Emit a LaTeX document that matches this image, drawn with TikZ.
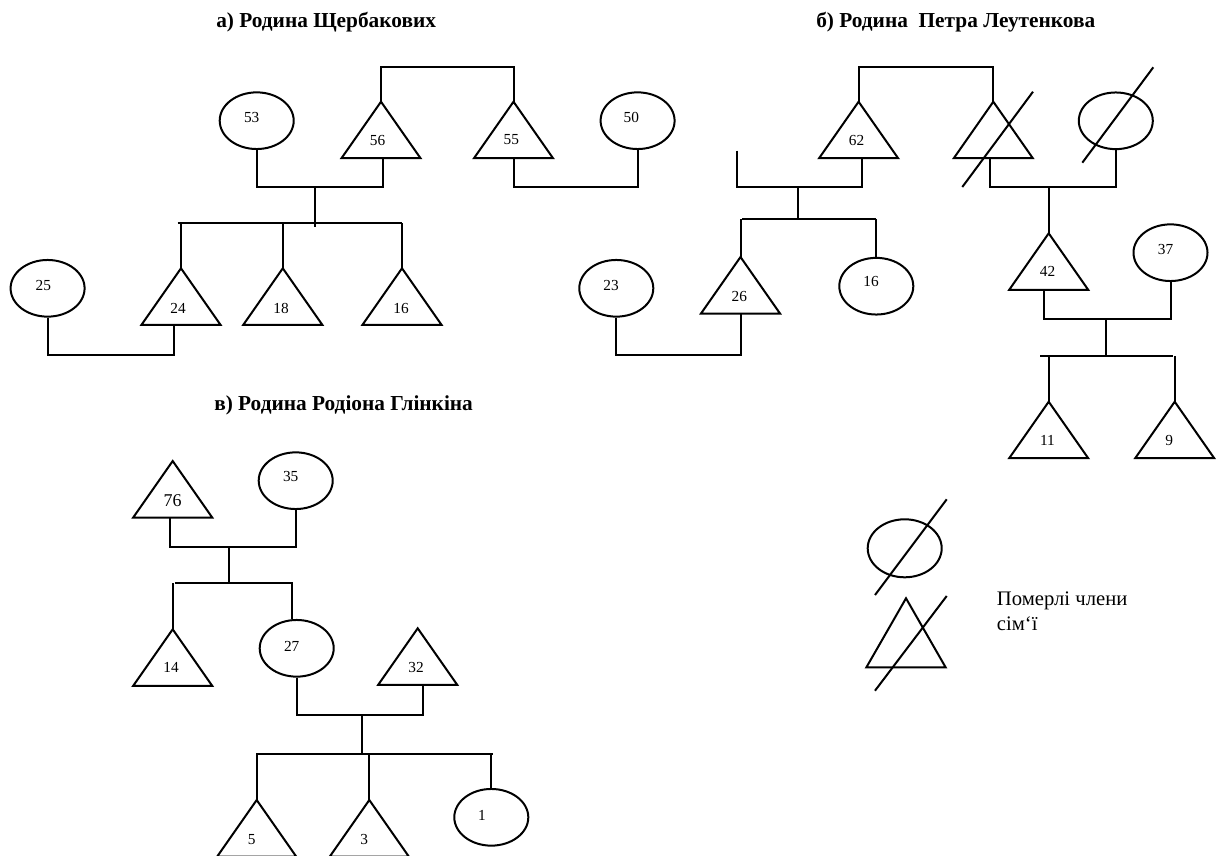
\documentclass[tikz,border=0pt]{standalone}
\usepackage{fontspec}
\setmainfont{Liberation Serif}
\usetikzlibrary{shapes.geometric,calc}
\tikzset{
  link/.style={line width=1.5pt},
  fem/.style={draw, ellipse, line width=1.5pt, minimum width=55.5pt, minimum height=42.5pt, inner sep=0pt},
  num/.style={inner sep=0pt, font=\fontsize{11.5}{13}\selectfont},
  bignum/.style={inner sep=0pt, font=\fontsize{13.5}{15}\selectfont},
  ttl/.style={inner sep=0pt, anchor=base west, font=\fontsize{16}{19}\selectfont\bfseries},
  tri/.pic={\draw[link] (-39.5,56.5) -- (0,0) -- (39.5,56.5) -- cycle;
            \coordinate (-top) at (0,0); \coordinate (-base) at (0,56.5);}
}
\begin{document}
\begin{tikzpicture}[x=0.75pt,y=-0.75pt]
\useasboundingbox (0,0) rectangle (1224,856);
\fill[white] (0,0) rectangle (1224,856);
\clip (0,0) rectangle (1224,856);

% ---------------- a) ----------------
\node[ttl] (titleA) at (216,27.7) {а) Родина Щербакових};
\pic (t56) at (381,101.7) {tri};
\pic (t55) at (513.5,101.7) {tri};
\node[fem] (c53) at (256.7,120.7) {};
\node[fem] (c50) at (637.6,120.7) {};
\pic (t24) at (181,268.3) {tri};
\pic (t18) at (282.8,268.3) {tri};
\pic (t16a) at (402,268.3) {tri};
\node[fem] (c25) at (47.6,288.3) {};
\node[num] (l53) at (251.7,117.3) {53};
\node[num] (l56) at (377.5,140) {56};
\node[num] (l55) at (511.4,140) {55};
\node[num] (l50) at (631.3,117.3) {50};
\node[num] (l24) at (178,308.3) {24};
\node[num] (l18) at (281.1,308.3) {18};
\node[num] (l16a) at (401.1,308.3) {16};
\node[num] (l25) at (43.4,285) {25};
\coordinate (topA) at (447,67.3);
\coordinate (mA) at (314.8,187.3);
\coordinate (mA2) at (574,187.3);
\coordinate (kA) at (314.8,226.7);
\coordinate (kAl) at (177.6,222.7);
\coordinate (kAr) at (402,222.7);
\coordinate (mA3) at (110,355);
\draw[link] (t56-top) |- (topA) -| (t55-top);
\draw[link] (c53.south) |- (mA) -| ([xshift=1.5pt]t56-base);
\draw[link] (t55-base) |- (mA2) -| (c50.south);
\draw[link] (mA) -- (kA);
\draw[link] (kAl) -- (kAr);
\draw[link] (t24-top) -- (t24-top |- kAl);
\draw[link] (t18-top) -- (t18-top |- kAl);
\draw[link] (t16a-top) -- (t16a-top |- kAl);
\draw[link] (c25.south) |- (mA3) -| ([xshift=-5pt]t24-base);

% ---------------- b) ----------------
\node[ttl] (titleB) at (816,27.7) {б) Родина\ \ Петра Леутенкова};
\pic (t62) at (858.6,101.7) {tri};
\pic (tD) at (993.3,101.7) {tri};
\node[fem] (cD) at (1115.8,120.8) {};
\coordinate (sT1) at (1033,91.7);
\coordinate (sT2) at (962.3,187);
\coordinate (sC1) at (1153.3,67.3);
\coordinate (sC2) at (1082.3,162.7);
\draw[link] (sT1) -- (sT2);
\draw[link] (sC1) -- (sC2);
\pic (t26) at (740.5,257) {tri};
\node[fem] (c16b) at (876.3,286.2) {};
\node[fem] (c23) at (616.3,288.3) {};
\pic (t42) at (1048.7,233.3) {tri};
\node[fem] (c37) at (1170.5,252.7) {};
\pic (t11) at (1048.7,401.7) {tri};
\pic (t9) at (1174.7,401.7) {tri};
\node[num] (l62) at (856.5,140) {62};
\node[num] (l26) at (739.3,296) {26};
\node[num] (l16b) at (871,281.7) {16};
\node[num] (l23) at (611,285) {23};
\node[num] (l42) at (1047.5,271.7) {42};
\node[num] (l37) at (1165.5,249.3) {37};
\node[num] (l11) at (1047.5,440) {11};
\node[num] (l9) at (1169.2,440) {9};
\coordinate (topB) at (926,67.3);
\coordinate (freeB) at (736.7,150.7);
\coordinate (mB1) at (797.7,186.7);
\coordinate (kB1) at (797.7,219.3);
\coordinate (kB1l) at (742.3,219.3);
\coordinate (kB1r) at (875.7,219.3);
\coordinate (mB2) at (680,355);
\coordinate (mB3) at (1048.7,186.7);
\coordinate (mB4) at (1105.9,319.3);
\coordinate (kB4) at (1105.9,356);
\coordinate (kB4l) at (1040.4,356);
\coordinate (kB4r) at (1172.6,356);
\draw[link] (t62-top) |- (topB) -| (tD-top);
\draw[link] (freeB) |- (mB1) -| ([xshift=2.6pt]t62-base);
\draw[link] (mB1) -- (kB1);
\draw[link] (kB1l) -- (kB1r);
\draw[link] (t26-top) -- (t26-top |- kB1l);
\draw[link] (c16b.north) -- (c16b.north |- kB1l);
\draw[link] (c23.south) |- (mB2) -| (t26-base);
\draw[link] ([xshift=-2.5pt]tD-base) |- (mB3) -| (cD.south);
\draw[link] (mB3) -- (t42-top);
\draw[link] ([xshift=-3.3pt]t42-base) |- (mB4) -| (c37.south);
\draw[link] (mB4) -- (kB4);
\draw[link] (kB4l) -- (kB4r);
\draw[link] (t11-top) -- (t11-top |- kB4l);
\draw[link] (t9-top) -- (t9-top |- kB4l);

% ---------------- c) ----------------
\node[ttl] (titleC) at (214,410) {в) Родина Родіона Глінкіна};
\pic (t76) at (172.7,461) {tri};
\node[fem] (c35) at (295.7,480.7) {};
\pic (t14) at (172.7,629.3) {tri};
\node[fem] (c27) at (296.7,648.3) {};
\pic (t32) at (417.7,628.3) {tri};
\pic (t5) at (256.7,800) {tri};
\pic (t3) at (369.3,800) {tri};
\node[fem] (c1) at (491.3,817.3) {};
\node[bignum] (l76) at (172.7,501) {76};
\node[num] (l35) at (290.7,476.7) {35};
\node[num] (l14) at (171,667.7) {14};
\node[num] (l27) at (291.7,646) {27};
\node[num] (l32) at (416,667.7) {32};
\node[num] (l5) at (251.7,839.3) {5};
\node[num] (l3) at (364.3,839.3) {3};
\node[num] (l1) at (482,815) {1};
\coordinate (mC1) at (229.3,546.7);
\coordinate (kC1) at (229.3,583.3);
\coordinate (kC1l) at (175,583.3);
\coordinate (kC1r) at (293.3,583.3);
\coordinate (mC2) at (361.7,715);
\coordinate (kC2) at (361.7,754);
\coordinate (kC2l) at (256,754);
\coordinate (kC2r) at (492.7,754);
\draw[link] ([xshift=-2pt]t76-base) |- (mC1) -| (c35.south);
\draw[link] (mC1) -- (kC1);
\draw[link] (kC1l) -- (kC1r);
\draw[link] (t14-top) -- (t14-top |- kC1l);
\draw[link] ([xshift=-3.3pt]c27.north) -- ([xshift=-3.3pt]c27.north |- kC1l);
\draw[link] (c27.south) |- (mC2) -| ([xshift=3.75pt]t32-base);
\draw[link] (mC2) -- (kC2);
\draw[link] (kC2l) -- (kC2r);
\draw[link] (t5-top) -- (t5-top |- kC2l);
\draw[link] (t3-top) -- (t3-top |- kC2l);
\draw[link] (c1.north) -- (c1.north |- kC2l);

% ---------------- legend ----------------
\node[fem, minimum height=43.5pt] (cL) at (904.7,548.3) {};
\coordinate (sL1) at (946.7,499.3);
\coordinate (sL2) at (875,595);
\draw[link] (sL1) -- (sL2);
\coordinate (tL-top) at (906,598.3);
\draw[link] (866.4,667.3) -- (tL-top) -- (945.6,667.3) -- cycle;
\coordinate (sL3) at (946.7,596);
\coordinate (sL4) at (875,690.7);
\draw[link] (sL3) -- (sL4);
\node[inner sep=0pt, anchor=north west, align=left, font=\fontsize{15.5}{18.2}\selectfont] (legtext) at (996.7,592) {Померлі члени\\сім‘ї};
\end{tikzpicture}
\end{document}
